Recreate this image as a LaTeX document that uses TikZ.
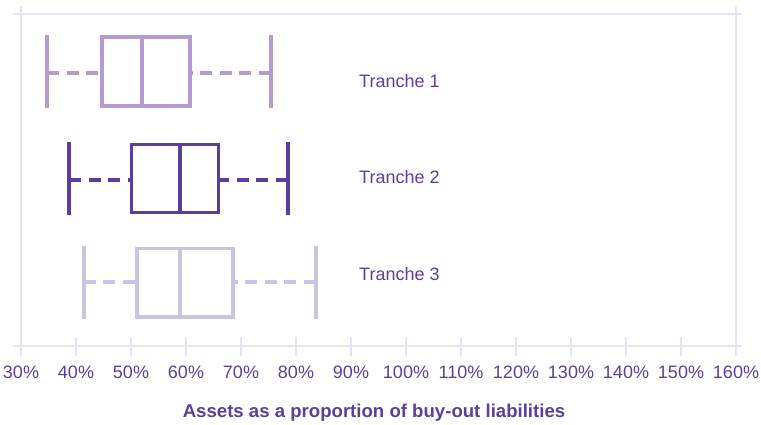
\documentclass[tikz,border=0pt]{standalone}
\usepackage{fontspec}
\setmainfont{Liberation Sans}
\definecolor{trlilac}{RGB}{179,157,208}
\definecolor{trpurple}{RGB}{92,60,158}
\definecolor{trlavender}{RGB}{200,196,226}
\definecolor{trgrid}{RGB}{230,228,244}
\definecolor{trtext}{RGB}{91,63,154}

\begin{document}
\begin{tikzpicture}[
    x=1pt, y=-1pt,
    font=\fontsize{18}{21}\selectfont,
    gridline/.style={draw=trgrid,line width=1.5pt},
    boxline/.style={line width=3.6pt},
    whisker/.style={line width=3.6pt,dash pattern=on 12pt off 7.5pt},
    trlabel/.style={text=trtext,anchor=base west,inner sep=0pt},
    ticklabel/.style={text=trtext,anchor=base,inner sep=0pt}
  ]
  \useasboundingbox (0,0) rectangle (761,425);
  % frame and axis
  \draw[gridline] (21,6) -- (21,356);
  \draw[gridline] (736,6) -- (736,356);
  \draw[gridline] (13,14) -- (742,14);
  \draw[gridline] (13,346) -- (742,346);
  \begin{scope}[x=5.5pt,xshift=-144pt]
    \foreach \p in {30,40,...,160} {
      \draw[gridline] (\p,337) -- (\p,356);
      \node[ticklabel] (tick\p) at (\p,378) {\p\%};
    }
    % Tranche 1
    \draw[whisker,trlilac] (34.73,73) -- (44.73,73);
    \draw[whisker,trlilac] (75.45,73) -- (60.73,73);
    \draw[boxline,trlilac] (44.73,37) rectangle (60.73,106);
    \draw[boxline,trlilac] (52,37) -- (52,106);
    \draw[boxline,trlilac] (34.73,35) -- (34.73,108);
    \draw[boxline,trlilac] (75.45,35) -- (75.45,108);
    % Tranche 2
    \draw[whisker,trpurple] (38.73,180) -- (50.1,180);
    \draw[whisker,trpurple] (78.5,180) -- (65.9,180);
    \draw[boxline,trpurple] (50.1,144.5) rectangle (65.9,212.5);
    \draw[boxline,trpurple] (58.9,144.5) -- (58.9,212.5);
    \draw[boxline,trpurple] (38.73,142) -- (38.73,215);
    \draw[boxline,trpurple] (78.5,142) -- (78.5,215);
    % Tranche 3
    \draw[whisker,trlavender] (41.45,282) -- (51.1,282);
    \draw[whisker,trlavender] (83.6,282) -- (68.5,282);
    \draw[boxline,trlavender] (51.1,248.5) rectangle (68.5,317);
    \draw[boxline,trlavender] (58.9,248.5) -- (58.9,317);
    \draw[boxline,trlavender] (41.45,246) -- (41.45,319);
    \draw[boxline,trlavender] (83.6,246) -- (83.6,319);
  \end{scope}
  \node[trlabel] (tr1) at (359,88) {Tranche 1};
  \node[trlabel] (tr2) at (359,184) {Tranche 2};
  \node[trlabel] (tr3) at (359,280) {Tranche 3};
  \node[text=trtext,anchor=base,inner sep=0pt,font=\fontsize{18.6}{21}\selectfont\bfseries] (title) at (374,417) {Assets as a proportion of buy-out liabilities};
\end{tikzpicture}
\end{document}
